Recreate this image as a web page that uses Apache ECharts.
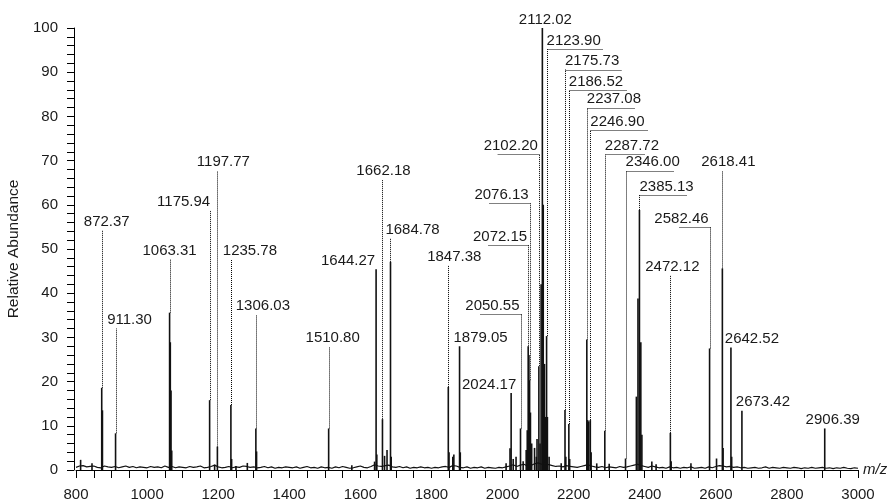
<!DOCTYPE html>
<html>
<head>
<meta charset="utf-8">
<script src="https://cdn.jsdelivr.net/npm/echarts@6/dist/echarts.min.js"></script>
<style>
  html, body { margin: 0; padding: 0; background: #fff; }
  #chart { width: 891px; height: 503px; }
</style>
</head>
<body>
<div id="chart"></div>
<script>
// ---- spectrum peaks (m/z, relative abundance %) ----
const peakMz = [
  813, 845, 872.37, 874.4, 911.30,
  1063.31, 1065.3, 1067.3, 1069.3, 1175.94, 1190, 1197.77, 1235.78, 1237.8, 1250,
  1282, 1306.03, 1308.0, 1510.80, 1576,
  1640, 1644.27, 1646.3, 1662.18, 1668, 1675, 1684.78, 1686.8,
  1847.38, 1849.4, 1860, 1863, 1879.05, 1881.1,
  2010, 2021, 2024.17, 2030, 2038, 2050.55, 2058,
  2066.5, 2069.5, 2072.15, 2074.2, 2076.13, 2078.5, 2082, 2090, 2095, 2097,
  2102.20, 2105.5, 2108.5, 2112.02, 2114.5, 2118, 2120.5, 2123.90, 2126.2, 2131,
  2165, 2175.73, 2178, 2186.52, 2188.8,
  2237.08, 2239.5, 2242.5, 2246.90, 2249.2, 2265, 2287.72, 2300, 2346.00,
  2376.5, 2381, 2385.13, 2389, 2392, 2420, 2432, 2472.12, 2474.3,
  2530, 2582.46, 2602, 2618.41, 2620.5, 2642.52, 2644.6, 2673.42, 2906.39
];
const peakHeight = [
  2.3, 1.5, 18.6, 13.5, 8.3,
  35.6, 28.9, 18.0, 4.4, 15.8, 1.2, 5.3, 14.7, 2.5, 0.9,
  1.6, 9.4, 4.2, 9.4, 1.1,
  1.9, 45.4, 3.5, 11.5, 3.2, 4.5, 47.1, 3.0,
  18.8, 4.0, 3.0, 3.5, 28.0, 4.0,
  1.5, 4.9, 17.4, 2.5, 3.0, 9.4, 2.0,
  4.5, 9.0, 28.0, 26.0, 20.3, 13.0, 6.0, 5.0, 3.0, 7.0,
  23.5, 6.0, 42.0, 100, 60.0, 24.0, 12.0, 30.3, 12.0, 3.0,
  1.5, 13.6, 3.0, 10.4, 2.5,
  29.5, 11.3, 11.0, 11.3, 4.0, 1.5, 8.9, 1.4, 2.6,
  16.6, 38.8, 58.8, 28.9, 8.0, 1.9, 1.3, 8.4, 2.0,
  1.5, 27.5, 2.6, 45.6, 5.0, 27.7, 3.0, 13.4, 9.4
];

// ---- baseline noise, one reading every 10 m/z from 800 to 3000 ----
const noiseStart = 800, noiseStep = 10;
const noiseLevel = [
  0.6,0.9,1.0,0.7,0.8,0.9,0.6,0.5,0.9,0.7, 0.6,0.8,0.5,0.7,0.9,0.6,0.8,0.5,0.7,0.6,
  0.5,0.8,0.6,0.7,0.5,0.9,0.6,0.8,0.5,0.7, 0.6,0.5,0.8,0.6,0.7,0.9,0.5,0.6,0.8,1.1,
  0.7,0.5,0.6,0.8,0.5,0.7,0.6,0.9,0.8,0.6, 0.7,0.5,0.6,0.8,0.5,0.7,0.4,0.6,0.5,0.7,
  0.6,0.5,0.7,0.4,0.6,0.8,0.5,0.6,0.4,0.7, 0.5,0.6,0.4,0.7,0.5,0.8,0.6,0.4,0.5,0.7,
  0.9,0.6,0.5,0.8,1.2,0.9,0.8,1.0,1.1,0.7, 0.6,0.8,0.5,0.7,0.4,0.6,0.5,0.7,0.5,0.6,
  0.4,0.6,0.5,0.7,0.8,0.6,1.0,0.9,0.6,0.5, 0.7,0.4,0.6,0.5,0.7,0.4,0.6,0.5,0.4,0.6,
  0.5,0.7,0.9,1.2,0.8,1.1,1.3,0.9,1.0,1.4, 1.6,1.3,1.5,1.2,1.0,0.8,0.9,0.7,1.0,0.8,
  0.7,0.6,0.8,1.0,1.2,0.9,0.7,0.6,0.8,0.5, 0.7,0.6,0.5,0.8,0.6,0.7,0.9,1.1,1.3,1.0,
  0.8,0.6,0.9,0.7,0.5,0.6,0.4,0.7,0.5,0.6, 0.4,0.6,0.5,0.7,0.4,0.5,0.6,0.4,0.7,0.5,
  0.8,1.0,0.9,0.7,0.8,0.6,0.7,0.5,0.6,0.4, 0.5,0.6,0.4,0.5,0.7,0.4,0.6,0.5,0.4,0.6,
  0.5,0.4,0.6,0.5,0.3,0.5,0.4,0.6,0.4,0.5, 0.6,0.4,0.5,0.3,0.5,0.4,0.6,0.4,0.3,0.5,
  0.4
];

// ---- annotated peaks ----
const labelText = [
  '872.37', '911.30', '1063.31', '1175.94', '1197.77', '1235.78', '1306.03',
  '1510.80', '1644.27', '1662.18', '1684.78', '1847.38', '1879.05',
  '2024.17', '2050.55', '2072.15', '2076.13', '2102.20', '2112.02', '2123.90',
  '2175.73', '2186.52', '2237.08', '2246.90', '2287.72', '2346.00', '2385.13',
  '2472.12', '2582.46', '2618.41', '2642.52', '2673.42', '2906.39'
];

// leader layout for each annotation: height the leader climbs to,
// sideways run of the underline (in m/z, signed) and a pixel nudge of the text
const leaderTop = [
  54.2, 32.0, 47.7, 58.8, 67.7, 47.7, 35.2,
  27.9, 45.4, 65.7, 52.5, 46.2, 28.0,
  17.4, 35.3, 50.9, 60.3, 71.4, 100, 95.2,
  90.6, 86.0, 82.0, 76.9, 71.4, 67.7, 62.2,
  44.1, 55.0, 67.7, 27.7, 13.4, 9.4
];
const leaderRun = [
  0, 0, 0, 0, 0, 0, 0,
  0, 0, 0, 0, 0, 0,
  0, -113, -113, -113, -117, 0, 160,
  160, 165, 135, 162, 113, 135, 134,
  0, -86, 0, 0, 0, 0
];
const textNudge = [
  5, 14, 0, -26, 6, 19, 7,
  4, -28, 1, 22, 6, 21,
  -22, 0, 0, 0, 0, 3, 0,
  0, 0, 0, 0, 0, 0, 0,
  2, 0, 6, 21, 21, 8
];

const FONT = '"Liberation Sans", Arial, Helvetica, sans-serif';
const INK = '#1a1a1a';

const peakData = peakMz.map((m, i) => [m, peakHeight[i]]);
const noiseData = noiseLevel.map((v, i) => [noiseStart + i * noiseStep, v]);
const calloutData = labelText.map((t, i) => {
  const mz = parseFloat(t);
  const k = peakMz.indexOf(mz);
  return [mz, peakHeight[k], leaderTop[i], leaderRun[i], textNudge[i]];
});

const chart = echarts.init(document.getElementById('chart'), null, { renderer: 'canvas' });

chart.setOption({
  animation: false,
  backgroundColor: '#fff',
  grid: { left: 76, right: 33, top: 28, bottom: 33, containLabel: false, outerBoundsMode: 'none' },
  xAxis: {
    type: 'value',
    min: 800, max: 3000, interval: 200,
    name: 'm/z',
    nameLocation: 'end',
    nameGap: 5,
    nameTextStyle: { fontFamily: FONT, fontSize: 15, fontStyle: 'italic', color: INK, verticalAlign: 'middle' },
    axisLine: { show: true, onZero: false, lineStyle: { color: '#000', width: 1 } },
    axisTick: { show: true, inside: false, length: 8, lineStyle: { color: '#000' } },
    minorTick: { show: true, splitNumber: 4, length: 8, lineStyle: { color: '#000' } },
    axisLabel: { margin: 17, fontFamily: FONT, fontSize: 15, color: INK, formatter: v => String(v) },
    splitLine: { show: false },
    minorSplitLine: { show: false }
  },
  yAxis: {
    type: 'value',
    min: 0, max: 100, interval: 10,
    offset: 2,
    name: 'Relative Abundance',
    nameLocation: 'middle',
    nameRotate: 90,
    nameGap: 48,
    nameTextStyle: { fontFamily: FONT, fontSize: 15.5, color: INK },
    axisLine: { show: true, lineStyle: { color: '#000', width: 1 } },
    axisTick: { show: true, inside: false, length: 7, lineStyle: { color: '#000' } },
    minorTick: { show: true, splitNumber: 5, length: 7, lineStyle: { color: '#000' } },
    axisLabel: { margin: 16, fontFamily: FONT, fontSize: 15, color: INK, formatter: v => String(v) },
    splitLine: { show: false },
    minorSplitLine: { show: false }
  },
  series: [
    {
      name: 'peaks',
      type: 'bar',
      data: peakData,
      barWidth: 1.6,
      itemStyle: { color: '#111' },
      silent: true
    },
    {
      name: 'baseline',
      type: 'line',
      data: noiseData,
      showSymbol: false,
      symbol: 'none',
      lineStyle: { color: '#111', width: 1.2 },
      silent: true
    },
    {
      name: 'annotations',
      type: 'custom',
      data: calloutData,
      encode: { x: 0, y: 1 },
      clip: false,
      silent: true,
      z: 5,
      renderItem: function (params, api) {
        const mz = api.value(0);
        const h = api.value(1);
        const top = api.value(2);
        const run = api.value(3);
        const nudge = api.value(4);
        const pBase = api.coord([mz, h]);
        const pTop = api.coord([mz, top]);
        const dotted = { stroke: '#000', lineWidth: 1, lineDash: [1, 1], fill: null };
        const children = [];
        if (top > h) {
          children.push({
            type: 'line',
            shape: { x1: Math.round(pBase[0]) + 0.5, y1: pBase[1], x2: Math.round(pTop[0]) + 0.5, y2: pTop[1] },
            style: dotted
          });
        }
        let tx = pTop[0] + nudge;
        let align = 'center';
        if (run !== 0) {
          const pEnd = api.coord([mz + run, top]);
          const yy = Math.round(pTop[1]) + 0.5;
          children.push({
            type: 'line',
            shape: { x1: Math.round(pTop[0]) + 0.5, y1: yy, x2: pEnd[0], y2: yy },
            style: dotted
          });
          align = run > 0 ? 'left' : 'right';
          tx = run > 0 ? pTop[0] : pTop[0] - 1;
        }
        children.push({
          type: 'text',
          x: tx,
          y: pTop[1] - 1,
          style: {
            text: labelText[params.dataIndex],
            textAlign: align,
            textVerticalAlign: 'bottom',
            font: '15px ' + FONT,
            fill: INK
          }
        });
        return { type: 'group', children: children };
      }
    }
  ]
});
</script>
</body>
</html>
